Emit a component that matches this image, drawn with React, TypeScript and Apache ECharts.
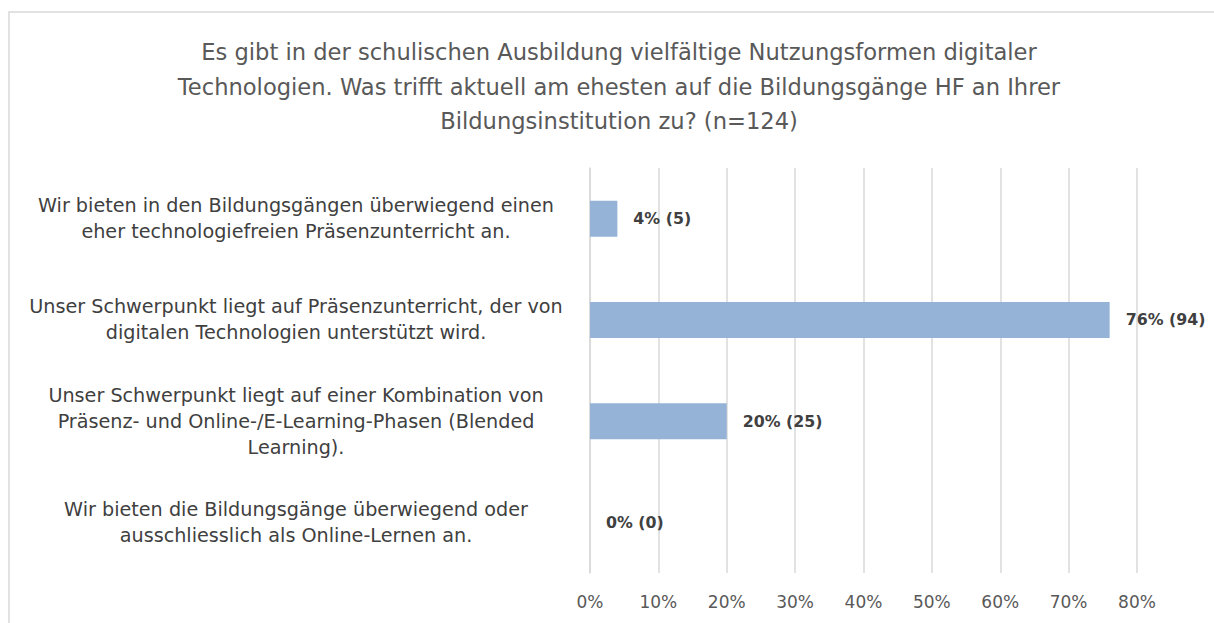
import React, { useEffect, useRef } from "react";
import * as echarts from "echarts";

const titleLines = [
  "Es gibt in der schulischen Ausbildung vielfältige Nutzungsformen digitaler",
  "Technologien. Was trifft aktuell am ehesten auf die Bildungsgänge HF an Ihrer",
  "Bildungsinstitution zu? (n=124)",
];

const categories = [
  "Wir bieten in den Bildungsgängen überwiegend einen\neher technologiefreien Präsenzunterricht an.",
  "Unser Schwerpunkt liegt auf Präsenzunterricht, der von\ndigitalen Technologien unterstützt wird.",
  "Unser Schwerpunkt liegt auf einer Kombination von\nPräsenz- und Online-/E-Learning-Phasen (Blended\nLearning).",
  "Wir bieten die Bildungsgänge überwiegend oder\nausschliesslich als Online-Lernen an.",
];

const percentValues = [4, 76, 20, 0];
const counts = [5, 94, 25, 0];

const FONT = "'DejaVu Sans', sans-serif";

export default function App() {
  const ref = useRef<HTMLDivElement>(null);
  useEffect(() => {
    document.body.style.margin = "0";
    if (!ref.current) return;
    const chart = echarts.init(ref.current, undefined, { renderer: "svg" });
    chart.setOption({
      animation: false,
      backgroundColor: "#ffffff",
      textStyle: { fontFamily: FONT },
      title: {
        text: titleLines.join("\n"),
        left: 614,
        top: 30,
        textAlign: "center",
        textStyle: {
          fontFamily: FONT,
          fontSize: 22.6,
          lineHeight: 34.5,
          fontWeight: "normal",
          color: "#595959",
        },
      },
      graphic: [
        {
          type: "rect",
          shape: { x: 9, y: 12, width: 1400, height: 800 },
          style: { fill: "none", stroke: "#d9d9d9", lineWidth: 1.5 },
          silent: true,
        },
      ],
      grid: { left: 590, right: 77, top: 168, bottom: 50, containLabel: false },
      xAxis: {
        type: "value",
        min: 0,
        max: 80,
        interval: 10,
        axisLine: { show: false },
        axisTick: { show: false },
        splitLine: { show: true, lineStyle: { color: "#d9d9d9", width: 1.5 } },
        axisLabel: {
          formatter: "{value}%",
          color: "#595959",
          fontSize: 17,
          fontFamily: FONT,
          margin: 20,
        },
      },
      yAxis: {
        type: "category",
        inverse: true,
        data: categories,
        axisLine: { show: true, lineStyle: { color: "#d9d9d9", width: 1.5 } },
        axisTick: { show: false },
        axisLabel: {
          align: "center",
          margin: 294,
          color: "#404040",
          fontSize: 19.2,
          lineHeight: 26,
          fontFamily: FONT,
        },
      },
      series: [
        {
          type: "bar",
          data: percentValues,
          barWidth: 36,
          itemStyle: { color: "#95b3d7", borderWidth: 0 },
          label: {
            show: true,
            position: "right",
            distance: 16,
            formatter: (p: any) => `${p.value}% (${counts[p.dataIndex]})`,
            color: "#404040",
            fontWeight: "bold",
            fontSize: 15.8,
            fontFamily: FONT,
          },
        },
      ],
    });
    return () => chart.dispose();
  }, []);
  return <div ref={ref} style={{ width: 1214, height: 623 }} />;
}
